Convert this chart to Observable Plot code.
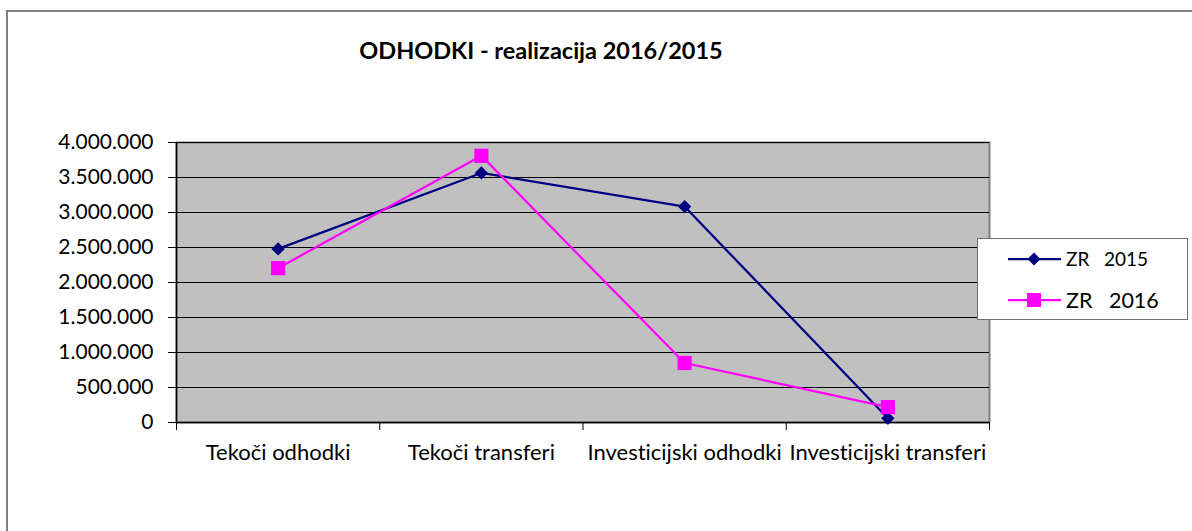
<!DOCTYPE html>
<html>
<head>
<meta charset="utf-8">
<script src="https://cdn.jsdelivr.net/npm/d3@7"></script>
<script src="https://cdn.jsdelivr.net/npm/@observablehq/plot@0.6"></script>
<style>
  body { margin: 0; background: #fff; font-family: Lato, sans-serif; font-variant-ligatures: none; }
  #wrap { position: relative; width: 1192px; height: 531px; overflow: hidden; background: #fff; }
  #border { position: absolute; left: 6px; top: 10px; width: 1300px; height: 700px;
            border-left: 2px solid #7f7f7f; border-top: 2px solid #7f7f7f; }
  #title { position: absolute; left: 0; top: 39px; width: 1082px; text-align: center;
           font-weight: bold; font-size: 23.5px; line-height: 1; color: #000; }
  #chart { position: absolute; left: 0; top: 0; }
  #chart svg text, #legend text { font-variant-ligatures: none; }
  #legend { position: absolute; left: 977px; top: 238px; width: 209px; height: 80px;
            border: 1px solid #6e6e6e; background: #fff; }
</style>
</head>
<body>
<div id="wrap">
  <div id="border"></div>
  <div id="chart"></div>
  <div id="title">ODHODKI - realizacija 2016/2015</div>
  <div id="legend"></div>
</div>
<script>
// ---- data ----
const categories = ["Tekoči odhodki", "Tekoči transferi", "Investicijski odhodki", "Investicijski transferi"];
const seriesNames = ["ZR   2015", "ZR   2016"];
const zr2015 = [2480000, 3565000, 3085000, 60000];
const zr2016 = [2205000, 3810000, 850000, 220000];
const yTicks = [0, 500000, 1000000, 1500000, 2000000, 2500000, 3000000, 3500000, 4000000];
const colors = ["#000080", "#ff00ff"];

const rows2015 = categories.map((c, i) => ({i, category: c, series: seriesNames[0], value: zr2015[i]}));
const rows2016 = categories.map((c, i) => ({i, category: c, series: seriesNames[1], value: zr2016[i]}));

const fmt = d => d3.format(",")(d).replace(/,/g, ".");
const boundaries = d3.range(categories.length + 1).map(k => k - 0.5);

const chart = Plot.plot({
  width: 1192,
  height: 531,
  marginLeft: 176,
  marginRight: 203,
  marginTop: 142,
  marginBottom: 109,
  style: {background: "transparent", color: "#000", fontFamily: "Lato, sans-serif"},
  x: {type: "linear", domain: [-0.5, categories.length - 0.5], axis: null, label: null},
  y: {domain: [0, 4000000], axis: null, label: null},
  marks: [
    Plot.frame({fill: "#c0c0c0", stroke: "#808080", strokeWidth: 2}),
    Plot.gridY(yTicks, {stroke: "#000", strokeOpacity: 1, strokeWidth: 1}),
    Plot.ruleY([0], {stroke: "#000", strokeWidth: 1.5}),
    Plot.ruleX([-0.5], {stroke: "#000", strokeWidth: 1.5}),
    Plot.axisY({ticks: yTicks, tickFormat: fmt, tickSize: 8, tickPadding: 15, fontSize: 21, stroke: "#000", label: null}),
    Plot.axisX({ticks: boundaries, tickFormat: () => "", tickSize: 8, stroke: "#000", label: null}),
    Plot.axisX({ticks: d3.range(categories.length), tickFormat: k => categories[k], tickSize: 0, tickPadding: 22, fontSize: 22, label: null}),
    Plot.line(rows2015, {x: "i", y: "value", stroke: colors[0], strokeWidth: 2.25}),
    Plot.dot(rows2015, {x: "i", y: "value", symbol: d3.symbolDiamond2, r: 6, fill: colors[0], stroke: "none"}),
    Plot.line(rows2016, {x: "i", y: "value", stroke: colors[1], strokeWidth: 2.25}),
    Plot.dot(rows2016, {x: "i", y: "value", symbol: "square", r: 8, fill: colors[1], stroke: "none"})
  ]
});
document.getElementById("chart").appendChild(chart);

// ---- legend ----
const lg = d3.select("#legend").append("svg").attr("width", 209).attr("height", 80);
const items = [
  {name: seriesNames[0], color: colors[0], sym: d3.symbolDiamond2, size: 108, y: 20, fs: 19},
  {name: seriesNames[1], color: colors[1], sym: d3.symbolSquare, size: 196, y: 61, fs: 21.5}
];
items.forEach(it => {
  lg.append("line").attr("x1", 30).attr("x2", 83).attr("y1", it.y).attr("y2", it.y)
    .attr("stroke", it.color).attr("stroke-width", 2.25);
  lg.append("path").attr("d", d3.symbol(it.sym, it.size)())
    .attr("transform", `translate(56,${it.y})`).attr("fill", it.color);
  lg.append("text").attr("x", 88).attr("y", it.y).attr("dy", "0.35em")
    .attr("font-size", it.fs).attr("font-family", "Lato, sans-serif")
    .style("white-space", "pre").attr("xml:space", "preserve").text(it.name);
});
</script>
</body>
</html>
